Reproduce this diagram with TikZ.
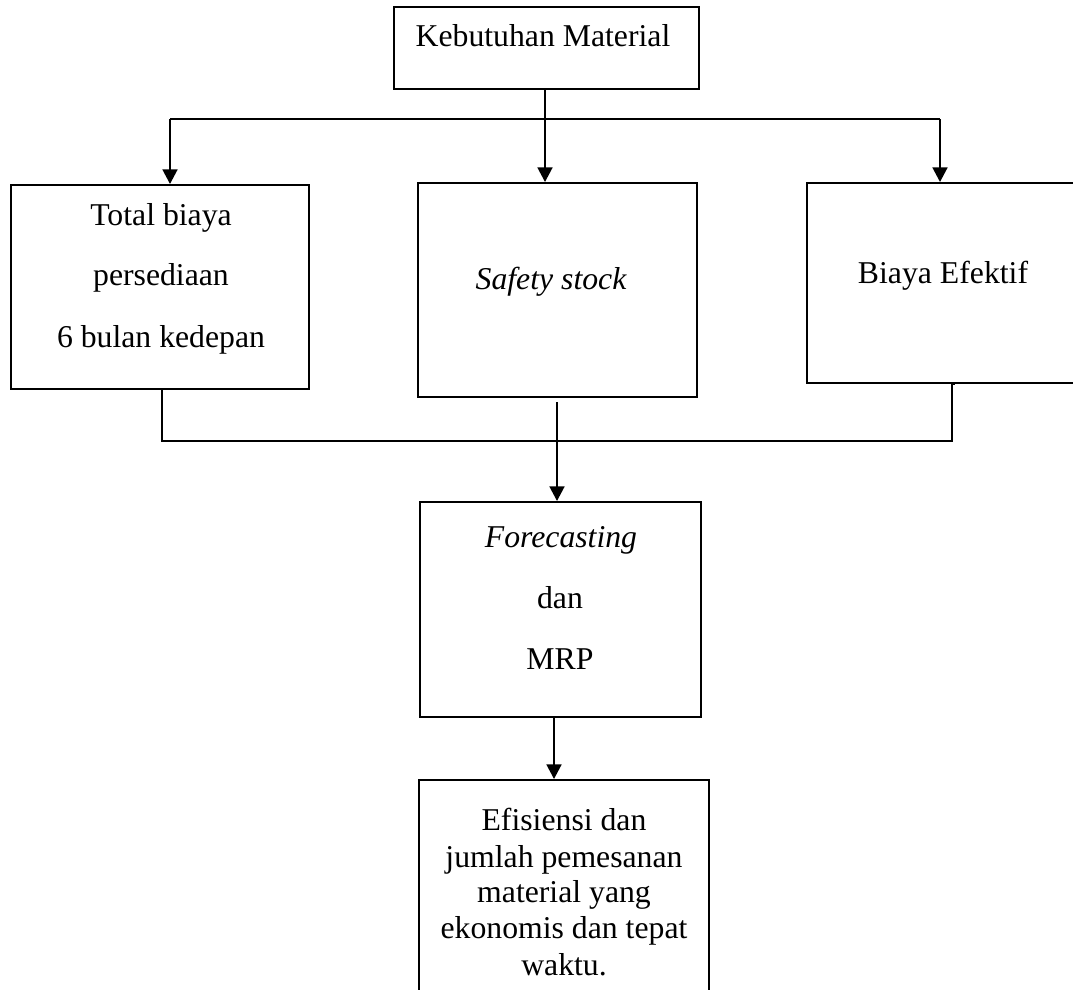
\documentclass[tikz,border=0pt]{standalone}
\usepackage{fontspec}
\setmainfont{Liberation Serif}
\usetikzlibrary{arrows.meta,fit}
\begin{document}
\begin{tikzpicture}[x=0.75pt,y=-0.75pt,
  box/.style={draw,line width=1.4pt,inner sep=0pt},
  arr/.style={line width=2pt,-{Triangle[width=11pt,length=11pt]}},
  trunk/.style={line width=2pt},
  thin/.style={line width=0.9pt},
  txt/.style={anchor=base,inner sep=0pt,font=\fontsize{23.8}{28}\selectfont}]
\useasboundingbox (0,0) rectangle (1073,989);
% boxes
\node[box,fit={(394,7) (699,89)}] (top) {};
\node[box,fit={(11,185) (309,389)}] (left) {};
\node[box,fit={(418,183) (697,397)}] (mid) {};
\node[box,fit={(807,183) (1090,383)}] (right) {};
\node[box,fit={(420,502) (701,717)}] (fore) {};
\node[box,fit={(419,780) (709,1005)}] (res) {};
% texts
\node[txt] (t1) at (543,46) {Kebutuhan Material};
\node[txt] (l1) at (161,225) {Total biaya};
\node[txt] (l2) at (161,285) {persediaan};
\node[txt] (l3) at (161,347) {6 bulan kedepan};
\node[txt] (m1) at (551,289) {\itshape Safety stock};
\node[txt] (r1) at (943,283) {Biaya Efektif};
\node[txt] (f1) at (561,547) {\itshape Forecasting};
\node[txt] (f2) at (560,608) {dan};
\node[txt] (f3) at (560,669) {MRP};
\node[txt] (e1) at (564,830) {Efisiensi dan};
\node[txt] (e2) at (564,867) {jumlah pemesanan};
\node[txt] (e3) at (564,902) {material yang};
\node[txt] (e4) at (564,938) {ekonomis dan tepat};
\node[txt] (e5) at (564,975) {waktu.};
% top distribution
\coordinate (jc) at (545,119);
\coordinate (jl) at (170,119);
\coordinate (jr) at (940,119);
\draw[trunk] (jl) -- (jr);
\draw[arr] (jc |- top.south) -- (jc |- mid.north);
\draw[arr] (jl) -- (jl |- left.north);
\draw[arr] (jr) -- (jr |- right.north);
% bottom collection
\coordinate (bl) at (162,441);
\coordinate (br) at (952,441);
\draw[thin] (bl |- left.south) -- (bl) -- (br) -- (br |- right.south) -- ++(3,0);
\coordinate (ms) at (557,402);
\draw[arr] (ms) -- (ms |- fore.north);
\coordinate (fs) at (554,717);
\draw[arr] (fs |- fore.south) -- (fs |- res.north);
\end{tikzpicture}
\end{document}
